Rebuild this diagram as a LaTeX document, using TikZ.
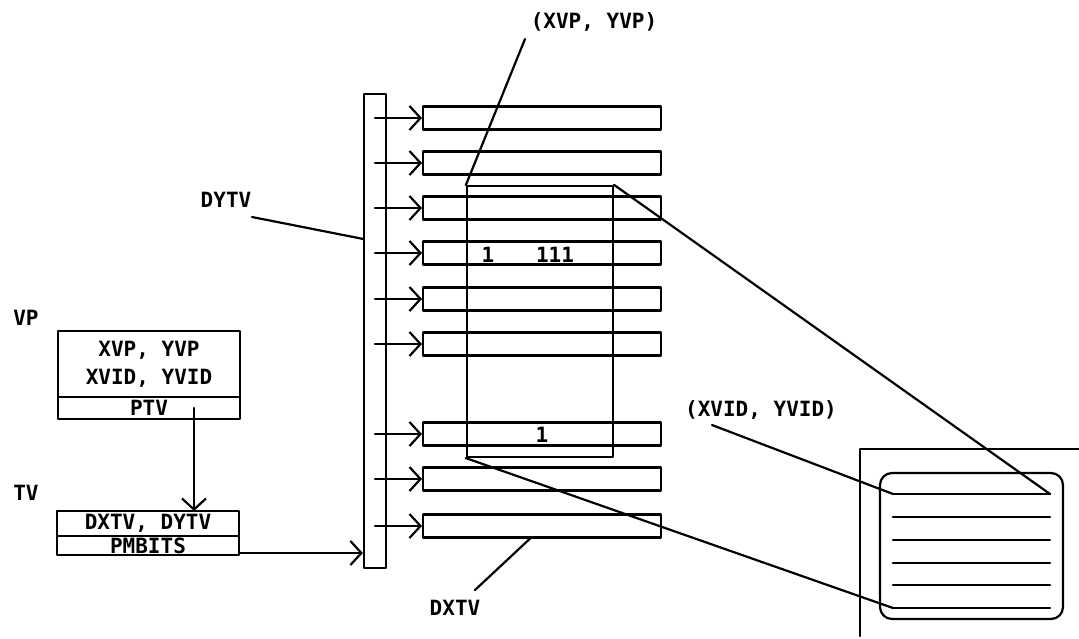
\documentclass[tikz,border=0pt]{standalone}
\usepackage{fontspec}
\setmonofont{DejaVu Sans Mono}
\usetikzlibrary{arrows.meta,positioning,calc}
\tikzset{
  plot/.style={line width=2.2pt, line cap=round, line join=round},
  ptr/.style={plot,-{Straight Barb[length=11pt,width=24pt]}},
  rowbox/.style={draw,plot,minimum width=238pt,minimum height=23pt,inner sep=0pt,anchor=west},
  recbox/.style={draw,plot,minimum width=182pt,inner sep=0pt,outer sep=0pt,lbl},
  lbl/.style={font=\ttfamily\bfseries\fontsize{21}{25}\selectfont,inner sep=0pt},
}

\begin{document}
\begin{tikzpicture}[x=1pt,y=-1pt]
\useasboundingbox (0,0) rectangle (1079,638);
% DYTV column and the DXTV rows
\node[draw,plot,minimum width=22pt,minimum height=474pt,inner sep=0pt] (dytv) at (375,331) {};
\foreach \n/\y in {1/118,2/163,3/208,4/253,5/299,6/344,7/434,8/479,9/526} {
  \node[rowbox] (r\n) at (422,\y) {};
  \draw[ptr] (dytv.center |- r\n.west) -- (r\n.west);
}
\node[lbl] (bitA) at (488,255) {1};
\node[lbl] (bitB) at (555,255) {111};
\node[lbl] (bitC) at (542,435) {1};
% viewport window
\node[draw,plot,minimum width=146pt,minimum height=271pt,inner sep=0pt] (win) at (540,321.5) {};
\node[lbl] (xvplbl) at (594,22) {(XVP, YVP)};
\coordinate (xvptail) at (525,39);
\draw[plot] (xvptail) -- (win.north west);
\node[lbl] (dytvlbl) at (226,200) {DYTV};
\coordinate (dytvtail) at (252,217);
\draw[plot] (dytvtail) -- ([yshift=-146pt]dytv.north west);
\node[lbl] (dxtvlbl) at (455,608) {DXTV};
\coordinate (dxtvtail) at (475,590);
\draw[plot] (dxtvtail) -- ([xshift=108pt]r9.south west);
% VP and TV records
\node[lbl] (vplbl) at (26,318) {VP};
\node[recbox,minimum height=66pt,align=center] (vpbody) at (149,364) {XVP, YVP\\[3pt]XVID, YVID};
\node[recbox,minimum height=22pt,below=0pt of vpbody] (ptv) {PTV};
\node[lbl] (tvlbl) at (26,493) {TV};
\node[recbox,minimum height=25pt] (tvbody) at (148,523.5) {DXTV, DYTV};
\node[recbox,minimum height=19pt,below=0pt of tvbody] (pmbits) {PMBITS};
\draw[ptr] ([xshift=45pt]ptv.center) -- ([xshift=46pt]tvbody.north);
\draw[ptr] ([yshift=2pt]pmbits.south east) -- ([yshift=2pt]pmbits.south east -| dytv.west);
% display screen
\coordinate (crt) at (860,449);
\draw[plot] (1079,449) -- (crt) -- (860,636);
\node[draw,plot,rounded corners=12pt,minimum width=183pt,minimum height=146pt,inner sep=0pt] (screen) at (971.5,546) {};
\foreach \n/\y in {1/494,2/517,3/540,4/563,5/585,6/608} {
  \coordinate (sl\n) at (893,\y);
  \coordinate (sr\n) at (1050,\y);
  \draw[plot] (sl\n) -- (sr\n);
}
\node[lbl] (xvidlbl) at (761,410) {(XVID, YVID)};
\coordinate (xvidtail) at (712,425);
\draw[plot] (xvidtail) -- (sl1);
\draw[plot] (win.north east) -- (sr1);
\draw[plot] (win.south west) -- (sl6);
\end{tikzpicture}
\end{document}
